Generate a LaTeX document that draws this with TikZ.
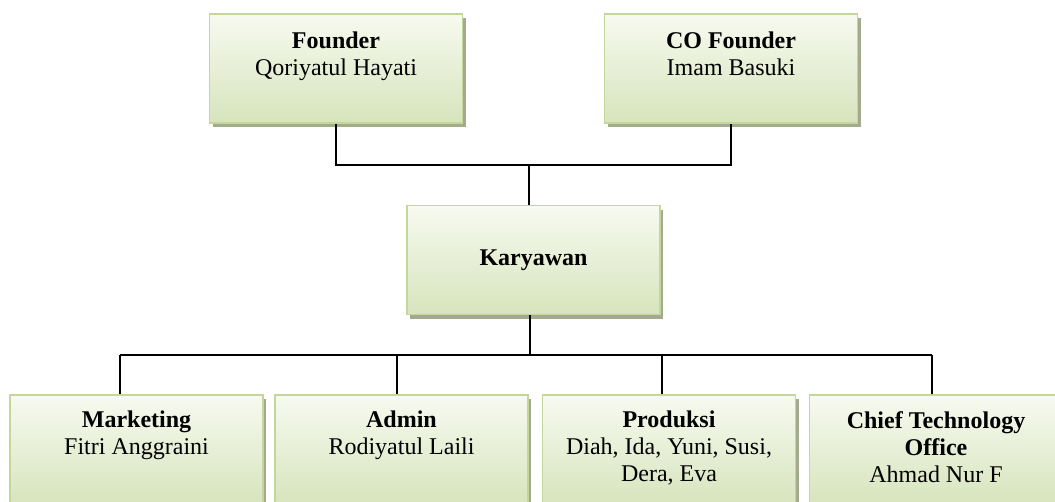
\documentclass[tikz,border=0pt]{standalone}
\usepackage{fontspec}
\setmainfont{Liberation Serif}
\usetikzlibrary{shadows}
\definecolor{boxborder}{HTML}{C3D69B}
\definecolor{boxtop}{HTML}{F7FAF0}
\definecolor{boxbot}{HTML}{D7E4BD}
\definecolor{boxshadow}{HTML}{A4AA8E}
\begin{document}
\begin{tikzpicture}[x=1pt,y=-1pt,
  orgbox/.style={draw=boxborder, line width=1.5pt, top color=boxtop, bottom color=boxbot,
    minimum width=253pt, minimum height=109pt, inner sep=0pt,
    drop shadow={shadow xshift=3pt, shadow yshift=-4pt, fill=boxshadow, opacity=1}},
  boxtext/.style={font=\fontsize{24}{27}\selectfont, align=center, inner sep=0pt, anchor=north},
  link/.style={line width=2.2pt, black}]
\clip (0,0) rectangle (1055,501);
% boxes
\node[orgbox] (founder) at (336,68.5) {};
\node[orgbox] (cofounder) at (731,68.5) {};
\node[orgbox, font=\fontsize{24}{27}\selectfont] (karyawan) at (533.5,260) {\textbf{Karyawan}};
\node[orgbox, minimum height=110pt] (marketing) at (136.5,450) {};
\node[orgbox, minimum height=110pt] (admin) at (401.5,450) {};
\node[orgbox, minimum height=110pt] (produksi) at (669,450) {};
\node[orgbox, minimum height=110pt] (cto) at (936,450) {};
% texts
\node[boxtext] (founder-t) at (336,32) {\textbf{Founder}\\Qoriyatul Hayati};
\node[boxtext] (cofounder-t) at (731,32) {\textbf{CO Founder}\\Imam Basuki};
\node[boxtext] (marketing-t) at (136.5,411) {\textbf{Marketing}\\Fitri Anggraini};
\node[boxtext] (admin-t) at (401.5,411) {\textbf{Admin}\\Rodiyatul Laili};
\node[boxtext] (produksi-t) at (669,411) {\textbf{Produksi}\\Diah, Ida, Yuni, Susi,\\Dera, Eva};
\node[boxtext] (cto-t) at (936,411) {\textbf{Chief Technology}\\\textbf{Office}\\Ahmad Nur F};
% connectors
\coordinate (j1) at (529,165);
\coordinate (j2) at (530,355);
\coordinate (b1) at (120,355);
\coordinate (b2) at (397,355);
\coordinate (b3) at (662,355);
\coordinate (b4) at (932,355);
\draw[link] (founder.south) |- (j1) -| (cofounder.south);
\draw[link] (j1) -- (j1 |- karyawan.north);
\draw[link] (j2 |- karyawan.south) -- (j2);
\draw[link] (b1) -- (b4);
\draw[link] (b1) -- (b1 |- marketing.north);
\draw[link] (b2) -- (b2 |- admin.north);
\draw[link] (b3) -- (b3 |- produksi.north);
\draw[link] (b4) -- (b4 |- cto.north);
\end{tikzpicture}
\end{document}
